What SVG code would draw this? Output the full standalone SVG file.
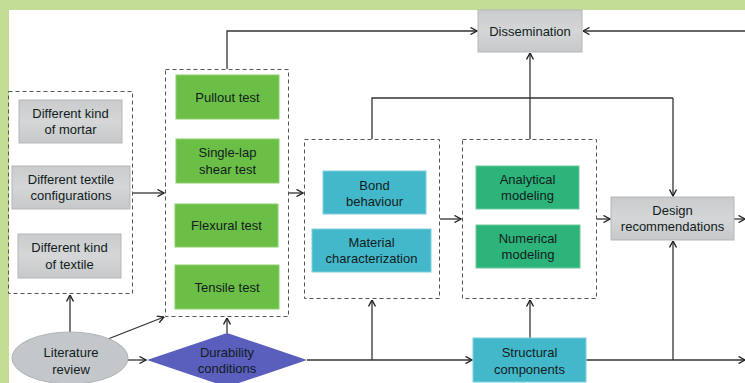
<svg xmlns="http://www.w3.org/2000/svg" width="745" height="383" viewBox="0 0 745 383">
  <style>
    .lbl { font-family: "Liberation Sans", Arial, sans-serif; font-size: 13px; fill: #121c20; text-anchor: middle; }
    .grp { fill: none; stroke: #555; stroke-width: 1; stroke-dasharray: 4 3; }
    .gray { fill: url(#grayFill); stroke: #b4b8ba; stroke-width: 1; }
    .test { fill: #6bbf46; stroke: #8ccf6c; stroke-width: 1; }
    .cyan { fill: #43b8ca; stroke: #7fcfdc; stroke-width: 1; }
    .model { fill: #2db47a; stroke: #6ccaa0; stroke-width: 1; }
    .wire { fill: none; stroke: #333; stroke-width: 1.3; }
    .arr { marker-end: url(#chev); }
  </style>
  <defs>
    <linearGradient id="grayFill" x1="0" y1="0" x2="0" y2="1">
      <stop offset="0" stop-color="#c9cbcd"/>
      <stop offset="0.5" stop-color="#d4d6d7"/>
      <stop offset="1" stop-color="#c6c8ca"/>
    </linearGradient>
    <marker id="chev" viewBox="0 0 8 8" refX="7.5" refY="4" markerWidth="8" markerHeight="8" markerUnits="userSpaceOnUse" orient="auto">
      <path d="M1,0.5 L7.5,4 L1,7.5" fill="none" stroke="#222" stroke-width="1.4"/>
    </marker>
  </defs>

  <!-- page frame -->
  <rect x="0" y="0" width="745" height="383" fill="#c4dd95"/>
  <rect x="9" y="10" width="736" height="373" fill="#ffffff"/>

  <!-- connectors -->
  <g id="connectors">
    <path class="wire arr" d="M227,69 V31 H477"/>
    <path class="wire arr" d="M745,31 H583"/>
    <path class="wire arr" d="M530,139 V53"/>
    <path class="wire" d="M372,139 V98 H673"/>
    <path class="wire arr" d="M673,98 V196"/>
    <path class="wire arr" d="M133,193 H164"/>
    <path class="wire arr" d="M289,193 H303"/>
    <path class="wire arr" d="M440,219 H461"/>
    <path class="wire arr" d="M597,219 H610"/>
    <path class="wire arr" d="M734,219 H745"/>
    <path class="wire arr" d="M307,360 H472"/>
    <path class="wire arr" d="M586,360 H745"/>
    <path class="wire arr" d="M372,360 V300"/>
    <path class="wire arr" d="M530,338 V300"/>
    <path class="wire arr" d="M673,360 V241"/>
    <path class="wire arr" d="M227,333 V318"/>
    <path class="wire arr" d="M70,332 V295"/>
    <path class="wire arr" d="M108,339 L164,317"/>
    <path class="wire arr" d="M128,360 H146"/>
  </g>

  <!-- grouping frames -->
  <g id="variables-frame"><rect class="grp" x="8.5" y="91.5" width="124" height="202"/></g>
  <g id="tests-frame"><rect class="grp" x="165.5" y="69.5" width="123" height="247"/></g>
  <g id="characterization-frame"><rect class="grp" x="304.5" y="139.5" width="135" height="159"/></g>
  <g id="modeling-frame"><rect class="grp" x="462.5" y="139.5" width="134" height="159"/></g>

  <!-- variables -->
  <g id="mortar">
    <rect class="gray" x="19" y="100" width="103" height="43"/>
    <text class="lbl" x="70.5" y="117.5">Different kind</text>
    <text class="lbl" x="70.5" y="134">of mortar</text>
  </g>
  <g id="textile-configurations">
    <rect class="gray" x="12" y="166" width="118" height="43"/>
    <text class="lbl" x="71" y="183.5">Different textile</text>
    <text class="lbl" x="71" y="200">configurations</text>
  </g>
  <g id="textile-kind">
    <rect class="gray" x="18" y="234" width="103" height="44"/>
    <text class="lbl" x="69.5" y="252">Different kind</text>
    <text class="lbl" x="69.5" y="268.5">of textile</text>
  </g>

  <!-- tests -->
  <g id="pullout">
    <rect class="test" x="176" y="75" width="103" height="44"/>
    <text class="lbl" x="227.5" y="101.5">Pullout test</text>
  </g>
  <g id="single-lap">
    <rect class="test" x="176" y="139" width="103" height="44"/>
    <text class="lbl" x="227.5" y="157">Single-lap</text>
    <text class="lbl" x="227.5" y="173.5">shear test</text>
  </g>
  <g id="flexural">
    <rect class="test" x="175" y="204" width="103" height="43"/>
    <text class="lbl" x="226.5" y="230">Flexural test</text>
  </g>
  <g id="tensile">
    <rect class="test" x="175" y="265" width="104" height="44"/>
    <text class="lbl" x="227" y="291.5">Tensile test</text>
  </g>

  <!-- characterization -->
  <g id="bond">
    <rect class="cyan" x="323" y="171" width="103" height="43"/>
    <text class="lbl" x="374.5" y="189.5">Bond</text>
    <text class="lbl" x="374.5" y="205.5">behaviour</text>
  </g>
  <g id="material">
    <rect class="cyan" x="312" y="229" width="119" height="43"/>
    <text class="lbl" x="371.5" y="246.5">Material</text>
    <text class="lbl" x="371.5" y="263">characterization</text>
  </g>

  <!-- modeling -->
  <g id="analytical">
    <rect class="model" x="476" y="166" width="103" height="43"/>
    <text class="lbl" x="527.5" y="183.5">Analytical</text>
    <text class="lbl" x="527.5" y="200">modeling</text>
  </g>
  <g id="numerical">
    <rect class="model" x="476" y="225" width="104" height="43"/>
    <text class="lbl" x="528" y="242.5">Numerical</text>
    <text class="lbl" x="528" y="259">modeling</text>
  </g>

  <!-- outputs -->
  <g id="dissemination">
    <rect class="gray" x="478" y="10" width="104" height="42"/>
    <text class="lbl" x="530" y="35.5">Dissemination</text>
  </g>
  <g id="design">
    <rect class="gray" x="611" y="197" width="123" height="43"/>
    <text class="lbl" x="672.5" y="214.5">Design</text>
    <text class="lbl" x="672.5" y="231">recommendations</text>
  </g>
  <g id="structural">
    <rect class="cyan" x="473" y="338" width="113" height="44"/>
    <text class="lbl" x="529.5" y="356.5">Structural</text>
    <text class="lbl" x="529.5" y="373.5">components</text>
  </g>

  <!-- inputs -->
  <g id="literature">
    <ellipse cx="70" cy="358" rx="58" ry="26" fill="#c3c7ca" stroke="#b0b4b7" stroke-width="1"/>
    <text class="lbl" x="71" y="356.5">Literature</text>
    <text class="lbl" x="71" y="373.5">review</text>
  </g>
  <g id="durability">
    <polygon points="147,360 227,333 307,360 227,387" fill="#5a5fbd"/>
    <text class="lbl" x="227" y="356.5">Durability</text>
    <text class="lbl" x="227" y="372.5">conditions</text>
  </g>
</svg>
